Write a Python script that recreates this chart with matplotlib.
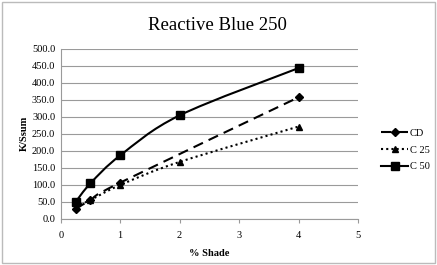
import numpy as np
import matplotlib
matplotlib.use('Agg')
import matplotlib.pyplot as plt
from matplotlib.path import Path
from matplotlib.patches import PathPatch, Rectangle
from matplotlib.lines import Line2D

shade = [0.25, 0.5, 1, 2, 4]
cd_shade = [0.25, 0.5, 1, 4]
cd = [29, 55, 106, 357]
c25 = [35, 55, 99, 167, 271]
c50 = [49, 104, 186, 304, 443]

plt.rcParams['font.family'] = ['Liberation Serif', 'DejaVu Serif']


def smooth_path(x, y):
    # Excel-style smoothed line as cubic bezier segments
    x = np.asarray(x, float)
    y = np.asarray(y, float)
    n = len(x)
    verts = [(x[0], y[0])]
    codes = [Path.MOVETO]
    t = 1 / 6
    for i in range(n - 1):
        x0, y0 = (x[i - 1], y[i - 1]) if i > 0 else (x[i], y[i])
        x3, y3 = (x[i + 2], y[i + 2]) if i + 2 < n else (x[i + 1], y[i + 1])
        c1 = (x[i] + (x[i + 1] - x0) * t, y[i] + (y[i + 1] - y0) * t)
        c2 = (x[i + 1] - (x3 - x[i]) * t, y[i + 1] - (y3 - y[i]) * t)
        verts += [c1, c2, (x[i + 1], y[i + 1])]
        codes += [Path.CURVE4] * 3
    return Path(verts, codes)


fig = plt.figure(figsize=(4.37, 2.65), dpi=100)
ax = fig.add_axes([60.7 / 437, 1 - 218.7 / 265, (358 - 60.7) / 437, 170 / 265])

series = [
    ('CD', cd_shade, cd, 'D', (0, (5, 3)), 4),
    ('C 25', shade, c25, '^', (0, (1, 1.5)), 5),
    ('C 50', shade, c50, 's', '-', 5.2),
]
handles = []
for name, xs, vals, mk, ls, ms in series:
    ax.add_patch(PathPatch(smooth_path(xs, vals), fill=False, lw=1.5,
                           ls=ls, ec='black', zorder=3))
    ax.plot(xs, vals, ls='none', marker=mk, ms=ms, color='black', zorder=4)
    handles.append(Line2D([], [], color='black', lw=1.5, ls=ls, marker=mk, ms=ms))

ax.set_xlim(0, 5)
ax.set_ylim(0, 500)
ax.set_yticks(np.arange(0, 501, 50))
ax.set_yticklabels(['%.1f' % v for v in np.arange(0, 501, 50)])
ax.set_xticks(range(6))
ax.yaxis.grid(True, color='#9a9a9a', lw=0.8)
ax.set_axisbelow(True)
for s in ['top', 'right']:
    ax.spines[s].set_visible(False)
for s in ['left', 'bottom']:
    ax.spines[s].set_color('#9a9a9a')
ax.tick_params(axis='both', labelsize=7.5, length=0, pad=4)
ax.tick_params(axis='x', length=3, color='#9a9a9a', pad=6)
ax.set_xlabel('% Shade', fontsize=7.5, fontweight='bold', labelpad=6)
ax.set_ylabel('K/Ssum', fontsize=7.5, fontweight='bold', labelpad=2)

fig.text(217 / 437, 1 - 26 / 265, 'Reactive Blue 250', ha='center', va='center', fontsize=13.5)

fig.legend(handles, ['CD', 'C 25', 'C 50'], loc='center left',
           bbox_to_anchor=(372 / 437, 1 - 150 / 265), frameon=False,
           fontsize=7.5, handlelength=2.6, handletextpad=0.1, labelspacing=0.7)

fig.patches.append(Rectangle((2 / 437, 2 / 265), 433 / 437, 261 / 265, transform=fig.transFigure,
                             fill=False, ec='#bbbbbb', lw=1))

fig.savefig('out.png', dpi=100)
